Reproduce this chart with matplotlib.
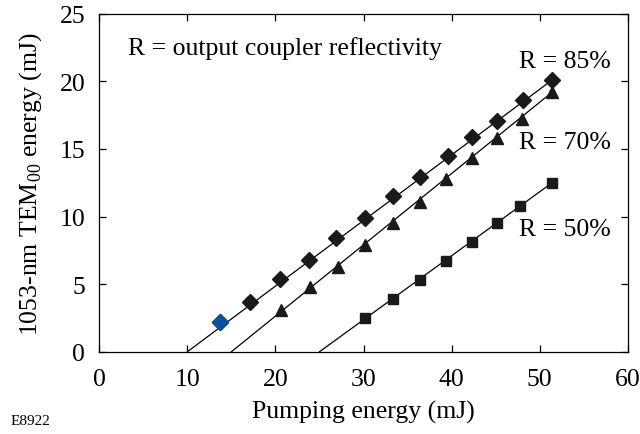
import matplotlib.pyplot as plt
import numpy as np

plt.rcParams['font.family'] = 'Liberation Serif'
plt.rcParams['mathtext.fontset'] = 'custom'
plt.rcParams['mathtext.rm'] = 'Liberation Serif'

# R = 85 %
x85 = [13.7, 17.1, 20.5, 23.8, 26.9, 30.2, 33.4, 36.4, 39.6, 42.3, 45.1, 48.1, 51.4]
y85 = [2.2, 3.7, 5.4, 6.8, 8.4, 9.9, 11.5, 12.9, 14.5, 15.9, 17.1, 18.6, 20.1]
# R = 70 %
x70 = [20.6, 23.9, 27.1, 30.2, 33.4, 36.4, 39.4, 42.3, 45.1, 48.0, 51.4]
y70 = [3.1, 4.8, 6.3, 7.9, 9.5, 11.1, 12.8, 14.3, 15.8, 17.2, 19.2]
# R = 50 %
x50 = [30.2, 33.3, 36.4, 39.4, 42.3, 45.1, 47.8, 51.4]
y50 = [2.5, 3.9, 5.3, 6.7, 8.1, 9.5, 10.8, 12.5]

# fitted lines: start on x-axis, end at last point
fit_x0 = [10.0, 15.0, 25.0]

fig = plt.figure(figsize=(6.4, 4.35), dpi=100)
ax = fig.add_axes([0.155, 0.189, 0.826, 0.777])

k = 'black'
series = [(x85, y85, 'D', 8), (x70, y70, '^', 9), (x50, y50, 's', 7.8)]
for (xs, ys, mk, ms), x0 in zip(series, fit_x0):
    ax.plot([x0, xs[-1]], [0, ys[-1]], color=k, lw=0.9, zorder=2)
    ax.plot(xs, ys, linestyle='none', marker=mk, ms=ms, color='#1a1a1a',
            mec='#1a1a1a', zorder=3)
# first point drawn in blue
ax.plot(x85[0], y85[0], linestyle='none', marker='D', ms=8,
        color='#0a4fa0', mec='#0a4fa0', zorder=4)

ax.set_xlim(0, 60)
ax.set_ylim(0, 25)
ax.set_xticks(range(0, 61, 10))
ax.set_yticks(range(0, 26, 5))
ax.tick_params(direction='in', length=5, width=0.9, top=True, right=True,
               labelsize=18.5)
ax.tick_params(axis='x', pad=12)
ax.tick_params(axis='y', pad=10)
for s in ax.spines.values():
    s.set_linewidth(0.9)

ax.set_xlabel('Pumping energy (mJ)', fontsize=18.5, labelpad=7)
ax.set_ylabel(r'1053-nm TEM$_\mathrm{00}$ energy (mJ)', fontsize=18.5, labelpad=11)

ax.text(3.3, 22.5, 'R = output coupler reflectivity', fontsize=18.5, va='center')
ax.text(47.6, 21.5, 'R = 85%', fontsize=18.5, va='center')
ax.text(47.6, 15.5, 'R = 70%', fontsize=18.5, va='center')
ax.text(47.6, 9.1, 'R = 50%', fontsize=18.5, va='center')

fig.text(0.017, 0.03, 'E8922', fontsize=11, va='center')

fig.savefig('out.png', dpi=100)
